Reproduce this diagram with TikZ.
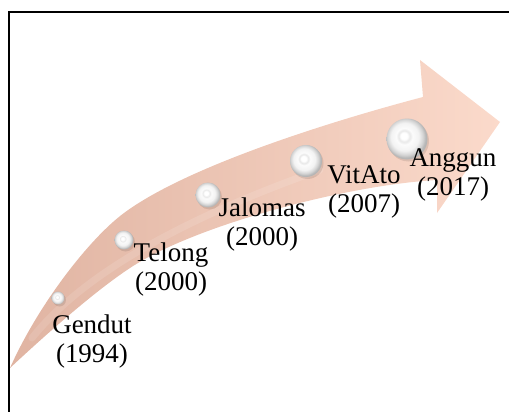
\documentclass[tikz,border=0pt]{standalone}
\usepackage{fontspec}
\setmainfont{Liberation Serif}
\definecolor{arrowL}{HTML}{E0B4A2}
\definecolor{arrowR}{HTML}{FBDACB}
\pgfdeclareradialshading{pearl}{\pgfpoint{-4bp}{4bp}}{color(0bp)=(white); color(4bp)=(white); color(7bp)=(gray!18); color(10bp)=(white!97!gray); color(17bp)=(white!90!gray); color(22bp)=(gray!35); color(25bp)=(gray!58); color(50bp)=(gray!58)}
\tikzset{
  pearlball/.style={circle, inner sep=0pt, shading=pearl},
  lbl/.style={align=center, anchor=base, inner sep=0pt, font=\fontsize{27}{28.5}\selectfont},
  frameline/.style={line width=2pt, black}
}
\begin{document}
\begin{tikzpicture}[x=1pt,y=-1pt]
\useasboundingbox (0,0) rectangle (509,412);
% frame
\coordinate (fb) at (9,412);
\coordinate (fc) at (9,12);
\coordinate (fr) at (509,12);
\draw[frameline] (fb) -- (fc) -- (fr);
% curved arrow
\shade[left color=arrowL, right color=arrowR]
  (10,368) .. controls (38,305) and (89,239) .. (124,213)
  .. controls (190,164) and (343,118) .. (423,97)
  -- (420,60) -- (500,122) -- (437,213) -- (437,180)
  .. controls (347,185) and (195,225) .. (130,268)
  .. controls (92,293) and (40,340) .. (10,368) -- cycle;
\draw[white, opacity=0.12, line width=7pt, line cap=round]
  (32,338) .. controls (70,290) and (150,230) .. (320,170);
% shadows
\foreach \x/\y/\r in {58/298/6.5, 124/240/9.5, 208/195/12.5, 306/161/16, 407/139/20.5}
  \fill[black, opacity=0.10] (\x+1.5,\y+2) circle (\r);
% spheres
\node[pearlball, minimum size=13pt] (s1) at (58,298) {};
\node[pearlball, minimum size=19pt] (s2) at (124,240) {};
\node[pearlball, minimum size=25pt] (s3) at (208,195) {};
\node[pearlball, minimum size=32pt] (s4) at (306,161) {};
\node[pearlball, minimum size=41pt] (s5) at (407,139) {};
% labels (base anchor = baseline of the last line)
\node[lbl] (t1) at (92,362) {Gendut\\(1994)};
\node[lbl] (t2) at (171,290) {Telong\\(2000)};
\node[lbl] (t3) at (262,245) {Jalomas\\(2000)};
\node[lbl] (t4) at (364,212) {VitAto\\(2007)};
\node[lbl] (t5) at (453,195) {Anggun\\(2017)};
\end{tikzpicture}
\end{document}
